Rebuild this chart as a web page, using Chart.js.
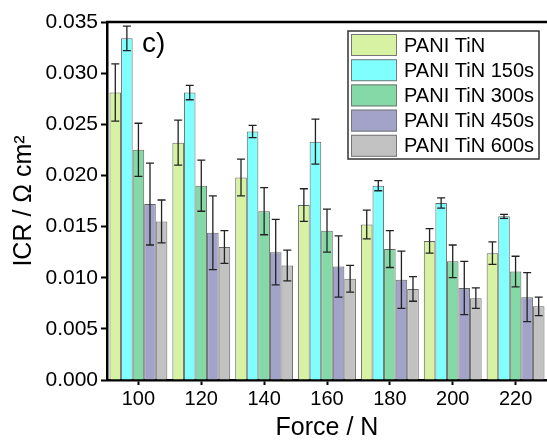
<!DOCTYPE html>
<html>
<head>
<meta charset="utf-8">
<script src="https://cdn.jsdelivr.net/npm/chart.js@4"></script>
<style>
  body { margin: 0; background: #fff; }
  canvas { display: block; }
</style>
</head>
<body>
<canvas id="icrChart" width="547" height="444"></canvas>
<script>
// data
const categories = ['100', '120', '140', '160', '180', '200', '220'];
const seriesNames = ['PANI TiN', 'PANI TiN 150s', 'PANI TiN 300s', 'PANI TiN 450s', 'PANI TiN 600s'];

const icrTiN = [0.0281, 0.0232, 0.0198, 0.0171, 0.0152, 0.0136, 0.0124];
const errTiN = [0.0028, 0.0022, 0.0018, 0.0016, 0.0014, 0.0012, 0.0011];
const icr150 = [0.0334, 0.0281, 0.0243, 0.0233, 0.0190, 0.0173, 0.0160];
const err150 = [0.0012, 0.0007, 0.0006, 0.0022, 0.0005, 0.0005, 0.0002];
const icr300 = [0.0225, 0.0190, 0.0165, 0.0146, 0.0128, 0.0116, 0.0106];
const err300 = [0.0026, 0.0025, 0.0023, 0.0021, 0.0018, 0.0016, 0.0015];
const icr450 = [0.0172, 0.0144, 0.0125, 0.0111, 0.0098, 0.0090, 0.0081];
const err450 = [0.0040, 0.0036, 0.0032, 0.0030, 0.0028, 0.0026, 0.0024];
const icr600 = [0.0155, 0.0130, 0.0112, 0.0099, 0.0089, 0.0080, 0.0072];
const err600 = [0.0021, 0.0016, 0.0015, 0.0013, 0.0012, 0.0010, 0.0009];

const yTicks = [0, 0.005, 0.010, 0.015, 0.020, 0.025, 0.030, 0.035];

const colors = ['#d6f2a2', '#80ffff', '#85d9a6', '#a3a3c9', '#c2c2c2'];
const values = [icrTiN, icr150, icr300, icr450, icr600];
const errors = [errTiN, err150, err300, err450, err600];

const FONT = 'Arial, "Liberation Sans", sans-serif';

// error bars, drawn through the bar elements and the y scale
const errorBars = {
    id: 'errorBars',
    afterDatasetsDraw(chart) {
        const ctx = chart.ctx;
        const y = chart.scales.y;
        ctx.save();
        ctx.strokeStyle = '#222';
        ctx.lineWidth = 1.3;
        chart.data.datasets.forEach((ds, i) => {
            chart.getDatasetMeta(i).data.forEach((bar, j) => {
                const v = ds.data[j], e = ds.errors[j];
                const top = y.getPixelForValue(v + e);
                const bot = y.getPixelForValue(v - e);
                ctx.beginPath();
                ctx.moveTo(bar.x, top);
                ctx.lineTo(bar.x, bot);
                ctx.moveTo(bar.x - 4, top);
                ctx.lineTo(bar.x + 4, top);
                ctx.moveTo(bar.x - 4, bot);
                ctx.lineTo(bar.x + 4, bot);
                ctx.stroke();
            });
        });
        ctx.restore();
    }
};

// frame top line, panel letter and boxed legend
const decorations = {
    id: 'decorations',
    afterDraw(chart) {
        const ctx = chart.ctx;
        const area = chart.chartArea;
        ctx.save();
        ctx.strokeStyle = '#000';
        ctx.lineWidth = 2.5;
        ctx.beginPath();
        ctx.moveTo(area.left - 1, area.top);
        ctx.lineTo(area.right, area.top);
        ctx.stroke();

        ctx.fillStyle = '#000';
        ctx.font = '28px ' + FONT;
        ctx.textBaseline = 'middle';
        ctx.fillText('c)', 142, 44);

        // legend
        const lx = 348, ly = 31, lw = 191, lh = 128;
        ctx.fillStyle = '#fff';
        ctx.fillRect(lx, ly, lw, lh);
        ctx.strokeStyle = '#333';
        ctx.lineWidth = 1.5;
        ctx.strokeRect(lx, ly, lw, lh);
        ctx.font = '20px ' + FONT;
        chart.data.datasets.forEach((ds, i) => {
            const ry = ly + 3 + i * 25.2;
            ctx.fillStyle = ds.backgroundColor;
            ctx.fillRect(lx + 3, ry, 46, 22);
            ctx.strokeStyle = '#777';
            ctx.lineWidth = 1;
            ctx.strokeRect(lx + 3.5, ry + 0.5, 45, 21);
            ctx.fillStyle = '#000';
            ctx.fillText(ds.label, lx + 56, ry + 12);
        });
        ctx.restore();
    }
};

new Chart(document.getElementById('icrChart').getContext('2d'), {
    type: 'bar',
    data: {
        labels: categories,
        datasets: seriesNames.map((name, i) => ({
            label: name,
            data: values[i],
            errors: errors[i],
            backgroundColor: colors[i],
            borderColor: 'rgba(50,50,50,0.75)',
            borderWidth: 1,
            categoryPercentage: 0.92,
            barPercentage: 1.0
        }))
    },
    options: {
        responsive: false,
        animation: false,
        layout: { padding: { top: 22, right: -3, left: 0, bottom: 0 } },
        plugins: { legend: { display: false }, tooltip: { enabled: false } },
        scales: {
            x: {
                grid: { drawOnChartArea: false, offset: false, tickLength: 5, tickWidth: 2, tickColor: '#000' },
                border: { color: '#000', width: 2.5 },
                ticks: { color: '#000', font: { family: FONT, size: 20 }, padding: 2, maxRotation: 0 },
                title: { display: true, text: 'Force / N', color: '#000', font: { family: FONT, size: 25 }, padding: { top: 0, bottom: 1 } },
                afterFit(scale) { scale.height = 64; }
            },
            y: {
                min: 0,
                max: 0.035,
                afterBuildTicks(scale) { scale.ticks = yTicks.map(v => ({ value: v })); },
                grid: { drawOnChartArea: false, tickLength: 6, tickWidth: 2, tickColor: '#000' },
                border: { color: '#000', width: 2.5 },
                ticks: { color: '#000', font: { family: FONT, size: 21 }, padding: 3, callback: v => v.toFixed(3) },
                title: { display: true, text: 'ICR / Ω cm²', color: '#000', font: { family: FONT, size: 25 }, padding: { top: 9, bottom: 0 } },
                afterFit(scale) { scale.width = 107; }
            }
        }
    },
    plugins: [errorBars, decorations]
});
</script>
</body>
</html>
